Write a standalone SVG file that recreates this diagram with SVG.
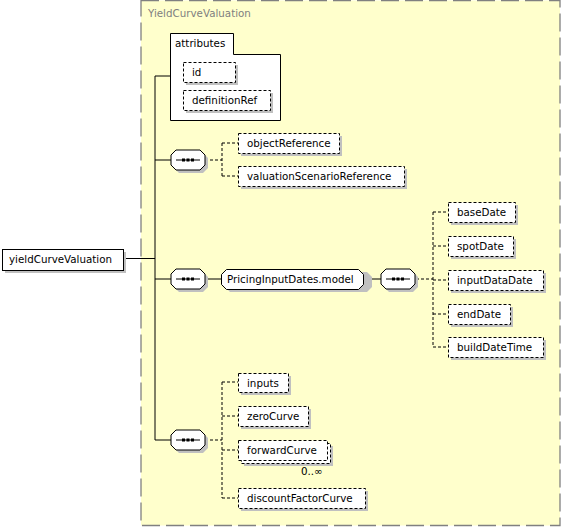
<svg xmlns="http://www.w3.org/2000/svg" width="561" height="527" viewBox="0 0 561 527">
<style>
.t{font-family:"DejaVu Sans",Verdana,sans-serif;font-size:10.3px;fill:#000}
.title{font-family:"DejaVu Sans",Verdana,sans-serif;font-size:10.3px;fill:#808080}
.box{fill:#fff;stroke:#000;stroke-width:1;stroke-dasharray:3,2}
.sbox{fill:#fff;stroke:#000;stroke-width:1}
.sh{fill:#c0c0c0;stroke:none}
.ln{fill:none;stroke:#000;stroke-width:1}
.dl{fill:none;stroke:#000;stroke-width:1;stroke-dasharray:3,2}
</style>
<defs>
<g id="comp">
<path d="M5,0H29L34,5V15L29,20H5L0,15V5Z" transform="translate(3,3)" class="sh"/>
<path d="M5,0H29L34,5V15L29,20H5L0,15V5Z" class="sbox"/>
<line x1="5" y1="10" x2="29" y2="10" class="ln"/>
<rect x="11" y="8.5" width="3" height="3" fill="#000"/>
<rect x="15.5" y="8.5" width="3" height="3" fill="#000"/>
<rect x="20" y="8.5" width="3" height="3" fill="#000"/>
</g>
</defs>
<g id="container">
<rect x="141" y="0.5" width="419" height="525" fill="#ffffcc" stroke="#808080" stroke-width="1.3" stroke-dasharray="18,6"/>
<text x="148" y="17" class="title">YieldCurveValuation</text>
</g>
<g id="connectors">
<line x1="155" y1="76" x2="155" y2="440" class="ln"/>
<line x1="123" y1="258.5" x2="155" y2="258.5" class="ln"/>
<line x1="155" y1="76" x2="170" y2="76" class="ln"/>
<line x1="155" y1="160" x2="171" y2="160" class="ln"/>
<line x1="155" y1="279" x2="171" y2="279" class="ln"/>
<line x1="155" y1="440" x2="171" y2="440" class="ln"/>
<path d="M205,160H222M222,143V176M222,143H238M222,176H238" class="dl"/>
<line x1="205" y1="279" x2="222" y2="279" class="ln"/>
<line x1="363" y1="279" x2="381" y2="279" class="ln"/>
<path d="M416,279H433M433,212V347M433,212H448M433,246H448M433,280H448M433,314H448M433,347H448" class="dl"/>
<path d="M205,440H222M222,382V498M222,382H238M222,416H238M222,450H238M222,498H238" class="dl"/>
</g>
<g id="yieldCurveValuation">
<rect x="5" y="252" width="121" height="21" class="sh"/>
<rect x="2.5" y="249.5" width="121" height="21" class="sbox"/>
<text x="9" y="263" class="t">yieldCurveValuation</text>
</g>
<g id="attributes">
<path d="M170.5,33.5H233.5V54.5H280.5V120.5H170.5Z" class="sbox"/>
<text x="175" y="47" class="t">attributes</text>
</g>
<g id="id">
<rect x="186" y="65" width="52" height="20" class="sh"/>
<rect x="183.5" y="62.5" width="52" height="20" class="box"/>
<text x="192" y="76" class="t">id</text>
</g>
<g id="definitionRef">
<rect x="186" y="93" width="87" height="20" class="sh"/>
<rect x="183.5" y="90.5" width="87" height="20" class="box"/>
<text x="192" y="104" class="t">definitionRef</text>
</g>
<g id="sequence1"><use href="#comp" x="171" y="150"/></g>
<g id="objectReference">
<rect x="241" y="136" width="101" height="20" class="sh"/>
<rect x="238.5" y="133.5" width="101" height="20" class="box"/>
<text x="247" y="147" class="t">objectReference</text>
</g>
<g id="valuationScenarioReference">
<rect x="241" y="169" width="166" height="20" class="sh"/>
<rect x="238.5" y="166.5" width="166" height="20" class="box"/>
<text x="247" y="180" class="t">valuationScenarioReference</text>
</g>
<g id="sequence2"><use href="#comp" x="171" y="269"/></g>
<g id="PricingInputDates.model">
<path d="M227,272H364L369,277V287L364,292H227L222,287V277Z" transform="translate(3,0)" class="sh"/>
<path d="M226.5,269.5H358.5L363.5,274.5V284.5L358.5,289.5H226.5L221.5,284.5V274.5Z" class="sbox"/>
<text x="227" y="283" class="t">PricingInputDates.model</text>
</g>
<g id="sequence3"><use href="#comp" x="381" y="269"/></g>
<g id="baseDate">
<rect x="451" y="205" width="67" height="20" class="sh"/>
<rect x="448.5" y="202.5" width="67" height="20" class="box"/>
<text x="457" y="216" class="t">baseDate</text>
</g>
<g id="spotDate">
<rect x="451" y="239" width="65" height="20" class="sh"/>
<rect x="448.5" y="236.5" width="65" height="20" class="box"/>
<text x="457" y="250" class="t">spotDate</text>
</g>
<g id="inputDataDate">
<rect x="451" y="273" width="95" height="20" class="sh"/>
<rect x="448.5" y="270.5" width="95" height="20" class="box"/>
<text x="457" y="284" class="t">inputDataDate</text>
</g>
<g id="endDate">
<rect x="451" y="307" width="62" height="20" class="sh"/>
<rect x="448.5" y="304.5" width="62" height="20" class="box"/>
<text x="457" y="318" class="t">endDate</text>
</g>
<g id="buildDateTime">
<rect x="451" y="340" width="95" height="20" class="sh"/>
<rect x="448.5" y="337.5" width="95" height="20" class="box"/>
<text x="457" y="351" class="t">buildDateTime</text>
</g>
<g id="sequence4"><use href="#comp" x="171" y="430"/></g>
<g id="inputs">
<rect x="241" y="376" width="50" height="19" class="sh"/>
<rect x="238.5" y="373.5" width="50" height="19" class="box"/>
<text x="247" y="387" class="t">inputs</text>
</g>
<g id="zeroCurve">
<rect x="241" y="409" width="70" height="20" class="sh"/>
<rect x="238.5" y="406.5" width="70" height="20" class="box"/>
<text x="247" y="420" class="t">zeroCurve</text>
</g>
<g id="forwardCurve">
<rect x="244" y="446" width="89" height="20" class="sh"/>
<rect x="241.5" y="443.5" width="89" height="20" class="box"/>
<rect x="238.5" y="440.5" width="89" height="20" class="box"/>
<text x="247" y="454" class="t">forwardCurve</text>
<text x="301" y="475" class="t">0..∞</text>
</g>
<g id="discountFactorCurve">
<rect x="241" y="491" width="127" height="20" class="sh"/>
<rect x="238.5" y="488.5" width="127" height="20" class="box"/>
<text x="247" y="502" class="t">discountFactorCurve</text>
</g>
</svg>
